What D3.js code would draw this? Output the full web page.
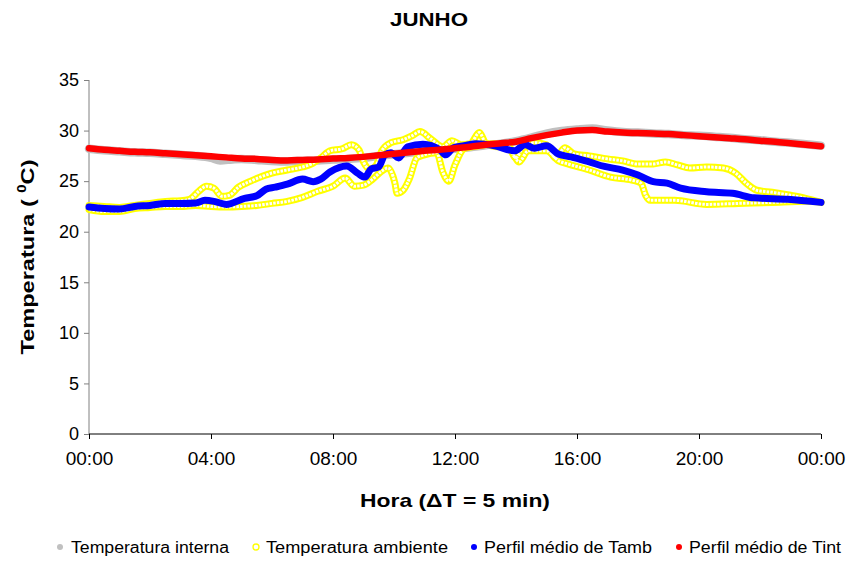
<!DOCTYPE html>
<html>
<head>
<meta charset="utf-8">
<script src="https://cdn.jsdelivr.net/npm/d3@7"></script>
<style>
  body { margin: 0; background: #fff; }
  text { font-family: "Liberation Sans", Arial, sans-serif; }
</style>
</head>
<body>
<svg id="chart" width="849" height="561"></svg>
<script>
// chart values (hour of day, temperature in degC)
const chartTitle = "JUNHO";
const seriesNames = ["Temperatura interna", "Temperatura ambiente", "Perfil médio de Tamb", "Perfil médio de Tint"];
const xTicks = [0, 4, 8, 12, 16, 20, 24];
const xTickLabels = ["00:00", "04:00", "08:00", "12:00", "16:00", "20:00", "00:00"];
const yTicks = [0, 5, 10, 15, 20, 25, 30, 35];

const tempInterna = [[0,28.2],[0.5,28.05],[1,27.95],[1.5,27.85],[2,27.8],[2.5,27.7],[3,27.6],[3.5,27.5],[4,27.3],[4.3,27.05],[4.7,27.15],[5,27.2],[5.5,27.1],[6,27.0],[6.5,26.95],[7,27.0],[7.5,27.05],[8,27.15],[8.5,27.2],[9,27.3],[9.5,27.5],[10,27.65],[10.5,27.8],[11,27.95],[11.5,28.1],[12,28.2],[12.5,28.35],[13,28.55],[13.5,28.7],[14,28.95],[14.5,29.3],[15,29.7],[15.5,29.95],[16,30.1],[16.5,30.2],[17,30.0],[17.5,29.85],[18,29.8],[18.5,29.7],[19,29.65],[19.5,29.55],[20,29.5],[20.5,29.4],[21,29.3],[21.5,29.15],[22,29.05],[22.5,28.9],[23,28.8],[23.5,28.65],[24,28.5]];

const tempAmbienteDia1 = [[0,22.6],[0.5,22.5],[1,22.4],[1.5,22.6],[2,22.8],[2.5,23.0],[3,23.05],[3.3,23.2],[3.6,24.0],[3.85,24.5],[4.1,24.3],[4.35,23.5],[4.6,23.6],[4.9,24.4],[5.3,25.0],[5.7,25.5],[6,25.8],[6.5,26.1],[7,26.4],[7.3,26.7],[7.6,27.3],[7.9,28.0],[8.3,28.2],[8.6,28.6],[8.85,28.1],[9,26.9],[9.2,26.2],[9.4,26.5],[9.6,28.0],[9.9,28.8],[10.3,29.1],[10.6,29.5],[10.85,29.9],[11.2,29.2],[11.6,28.4],[11.9,29.0],[12.2,28.6],[12.5,28.7],[12.8,29.8],[13,28.8],[13.4,28.4],[13.7,28.6],[14,27.3],[14.2,28.2],[14.6,28.8],[15,28.6],[15.3,27.3],[15.6,28.3],[15.9,27.7],[16.4,27.5],[17,27.2],[17.5,27.0],[18,26.7],[18.5,26.7],[18.9,26.9],[19.3,26.6],[19.7,26.3],[20.25,26.4],[20.8,26.3],[21.2,25.8],[21.55,24.8],[21.9,24.1],[22.4,23.9],[23,23.6],[23.5,23.3],[24,22.9]];

const tempAmbienteDia2 = [[0,22.2],[0.5,22.0],[1,22.0],[1.5,22.3],[2,22.4],[2.5,22.5],[3,22.5],[3.5,22.6],[4,22.5],[4.5,22.45],[5,22.5],[5.5,22.6],[6,22.8],[6.5,23.0],[7,23.4],[7.5,24.0],[8,24.5],[8.4,25.3],[8.7,24.5],[9,24.6],[9.3,25.2],[9.6,26.0],[9.8,26.3],[10.03,24.8],[10.1,23.8],[10.3,24.1],[10.5,25.2],[10.75,27.3],[11,27.6],[11.4,27.8],[11.6,25.9],[11.8,25.0],[12,26.6],[12.3,28.2],[12.8,28.5],[13.3,28.7],[13.8,28.3],[14.1,26.9],[14.4,28.0],[15,28.0],[15.4,27.0],[15.7,26.7],[16.4,26.1],[17.1,25.4],[17.8,25.1],[18.1,24.8],[18.25,23.6],[18.4,23.1],[19.2,23.1],[20.25,22.7],[21.3,22.8],[22.4,22.9],[23.5,23.0],[24,22.9]];

const perfilTamb = [[0,22.45],[0.5,22.3],[1,22.25],[1.5,22.5],[2,22.6],[2.5,22.8],[3,22.8],[3.5,22.85],[3.8,23.1],[4.1,23.0],[4.5,22.7],[5.1,23.3],[5.5,23.55],[5.8,24.2],[6.1,24.4],[6.5,24.7],[7,25.2],[7.35,24.95],[7.6,25.2],[7.9,25.9],[8.45,26.5],[8.8,25.8],[9.05,25.4],[9.25,26.2],[9.5,26.4],[9.7,27.6],[9.9,27.8],[10.15,27.3],[10.45,28.4],[10.95,28.65],[11.5,28.1],[11.7,27.6],[11.95,28.3],[12.3,28.5],[12.7,28.7],[13.3,28.5],[13.95,28.0],[14.3,28.6],[14.6,28.25],[15,28.5],[15.4,27.65],[15.8,27.4],[16.4,26.9],[16.9,26.45],[17.5,26.1],[18,25.6],[18.5,24.95],[18.95,24.8],[19.4,24.3],[20.25,23.95],[21.1,23.8],[21.8,23.35],[22.9,23.2],[24,22.9]];

const perfilTint = [[0,28.25],[0.5,28.1],[1,28.0],[1.5,27.9],[2,27.85],[2.5,27.75],[3,27.65],[3.5,27.55],[4,27.45],[4.5,27.35],[5,27.25],[5.5,27.2],[6,27.1],[6.5,27.05],[7,27.1],[7.5,27.15],[8,27.25],[8.5,27.3],[9,27.4],[9.5,27.55],[10,27.7],[10.5,27.85],[11,28.0],[11.5,28.1],[12,28.25],[12.5,28.4],[13,28.6],[13.5,28.75],[14,28.9],[14.5,29.25],[15,29.55],[15.5,29.8],[16,30.0],[16.5,30.05],[17,29.9],[17.5,29.8],[18,29.75],[18.5,29.7],[19,29.65],[19.5,29.55],[20,29.45],[20.5,29.35],[21,29.25],[21.5,29.15],[22,29.0],[22.5,28.9],[23,28.75],[23.5,28.6],[24,28.45]];

const svg = d3.select("#chart");
const plotLeft = 89, plotRight = 821, plotTop = 80, plotBottom = 434;

const x = d3.scaleLinear().domain([0, 24]).range([plotLeft, plotRight]);
const y = d3.scaleLinear().domain([0, 35]).range([plotBottom, plotTop]);

const line = d3.line()
    .x(d => x(d[0]))
    .y(d => y(d[1]))
    .curve(d3.curveMonotoneX);

// title
svg.append("text")
    .attr("x", 429).attr("y", 26)
    .attr("text-anchor", "middle")
    .attr("font-size", 18).attr("font-weight", "bold")
    .attr("textLength", 78).attr("lengthAdjust", "spacingAndGlyphs")
    .text(chartTitle);

// y axis
const yAxis = svg.append("g")
    .attr("transform", `translate(${plotLeft},0)`)
    .call(d3.axisLeft(y).tickValues(yTicks).tickSize(5).tickPadding(5));
yAxis.select(".domain").attr("stroke", "#808080").attr("d", `M0,${plotTop}V${plotBottom}`);
yAxis.selectAll(".tick line").attr("stroke", "#808080");
yAxis.selectAll(".tick text")
    .attr("font-size", 18).attr("fill", "#000")
    .attr("font-family", "Liberation Sans, Arial, sans-serif");

// x axis
const xAxis = svg.append("g")
    .attr("transform", `translate(0,${plotBottom})`)
    .call(d3.axisBottom(x).tickValues(xTicks).tickFormat((d, i) => xTickLabels[i]).tickSize(5).tickPadding(13));
xAxis.select(".domain").attr("stroke", "#000").attr("d", `M${plotLeft},0H${plotRight}`);
xAxis.selectAll(".tick line").attr("stroke", "#000");
xAxis.selectAll(".tick text")
    .attr("font-size", 19).attr("fill", "#000")
    .attr("font-family", "Liberation Sans, Arial, sans-serif");

// axis titles
const yTitle = svg.append("text")
    .attr("transform", "translate(34,257) rotate(-90)")
    .attr("text-anchor", "middle")
    .attr("font-size", 19).attr("font-weight", "bold")
    .attr("textLength", 195).attr("lengthAdjust", "spacingAndGlyphs");
yTitle.append("tspan").text("Temperatura ( ");
yTitle.append("tspan").attr("font-size", 12).attr("dy", -8).text("0");
yTitle.append("tspan").attr("dy", 8).text("C)");

svg.append("text")
    .attr("x", 455).attr("y", 507)
    .attr("text-anchor", "middle")
    .attr("font-size", 19).attr("font-weight", "bold")
    .attr("textLength", 190).attr("lengthAdjust", "spacingAndGlyphs")
    .text("Hora (\u0394T = 5 min)");

// series, in the legend's order
const plot = svg.append("g");

plot.append("path").datum(tempInterna)
    .attr("d", line).attr("fill", "none")
    .attr("stroke", "#c0c0c0").attr("stroke-width", 8.5)
    .attr("stroke-linecap", "round").attr("stroke-linejoin", "round");

for (const dia of [tempAmbienteDia1, tempAmbienteDia2]) {
    plot.append("path").datum(dia)
        .attr("d", line).attr("fill", "none")
        .attr("stroke", "#ffff00").attr("stroke-width", 7)
        .attr("stroke-linecap", "round").attr("stroke-linejoin", "round");
}
for (const dia of [tempAmbienteDia1, tempAmbienteDia2]) {
    // hollow centre, like the chain of ring markers
    plot.append("path").datum(dia)
        .attr("d", line).attr("fill", "none")
        .attr("stroke", "#fff").attr("stroke-width", 3)
        .attr("stroke-dasharray", "2.5 1.2");
}

plot.append("path").datum(perfilTamb)
    .attr("d", line).attr("fill", "none")
    .attr("stroke", "#0000ff").attr("stroke-width", 7)
    .attr("stroke-linecap", "round").attr("stroke-linejoin", "round");

plot.append("path").datum(perfilTint)
    .attr("d", line).attr("fill", "none")
    .attr("stroke", "#ff0000").attr("stroke-width", 6.5)
    .attr("stroke-linecap", "round").attr("stroke-linejoin", "round");

// legend
const legendItems = [
    {name: seriesNames[0], mx: 60, tx: 71, w: 158, fill: "#c0c0c0", stroke: "none"},
    {name: seriesNames[1], mx: 256, tx: 266, w: 182, fill: "#fff", stroke: "#ffff00"},
    {name: seriesNames[2], mx: 474, tx: 484, w: 168, fill: "#0000ff", stroke: "none"},
    {name: seriesNames[3], mx: 679, tx: 689, w: 152, fill: "#ff0000", stroke: "none"}
];
const legend = svg.append("g");
legendItems.forEach(d => {
    legend.append("circle")
        .attr("cx", d.mx).attr("cy", 547).attr("r", 3)
        .attr("fill", d.fill).attr("stroke", d.stroke).attr("stroke-width", 1.3);
    legend.append("text")
        .attr("x", d.tx).attr("y", 553)
        .attr("font-size", 16)
        .attr("textLength", d.w).attr("lengthAdjust", "spacingAndGlyphs")
        .text(d.name);
});
</script>
</body>
</html>
